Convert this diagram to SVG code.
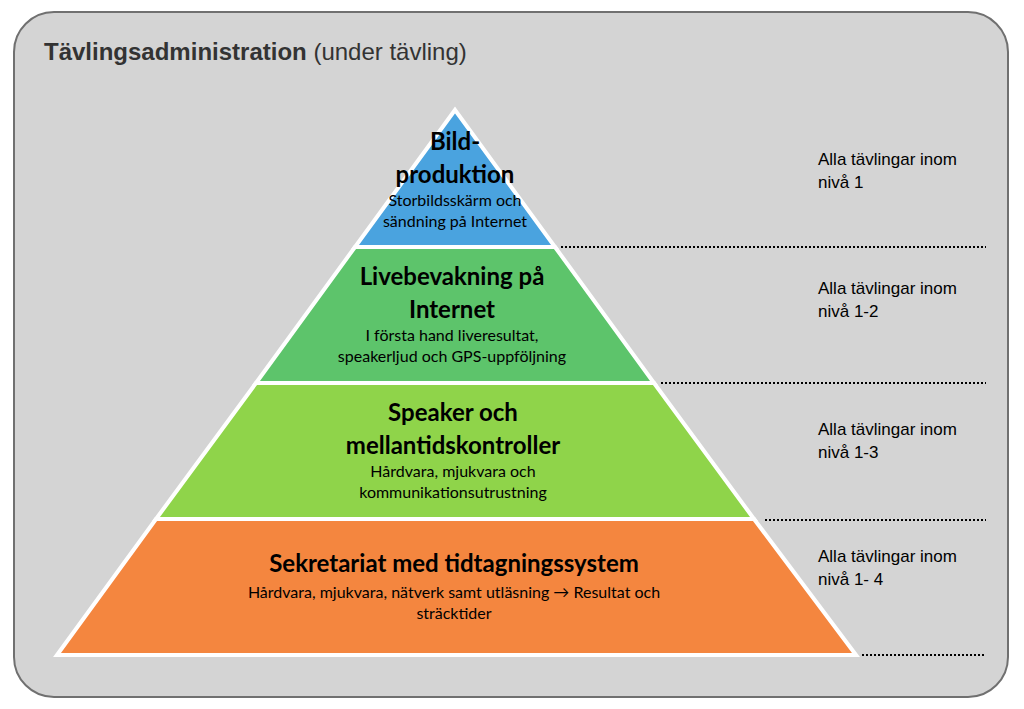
<svg xmlns="http://www.w3.org/2000/svg" width="1024" height="709" viewBox="0 0 1024 709">
<style>
.band{stroke:#fff;stroke-width:4;stroke-linejoin:miter}
.h{font-family:Lato,"Open Sans",sans-serif;font-weight:bold;font-size:24px;fill:#000;text-anchor:middle}
.s{font-family:Lato,"Open Sans",sans-serif;font-size:16px;fill:#000;text-anchor:middle}
.r{font-family:"Liberation Sans",Arial,sans-serif;font-size:17px;fill:#000}
.dot{stroke:#000;stroke-width:2;stroke-dasharray:2 2;fill:none}
</style>
<rect x="0" y="0" width="1024" height="709" fill="#fff"/>
<rect x="14" y="12" width="994" height="685" rx="40" fill="#d4d4d4" stroke="#707070" stroke-width="2"/>
<text x="44" y="60" font-family="Liberation Sans,Arial,sans-serif" font-size="24" fill="#333"><tspan font-weight="bold">Tävlingsadministration</tspan> (under tävling)</text>
<g id="level1"><polygon class="band" points="455,110 555,247 355,247" fill="#4aa3df"/>
<text class="h" x="455" y="150">Bild-</text><text class="h" x="455" y="183">produktion</text>
<text class="s" x="455" y="206">Storbildsskärm och</text><text class="s" x="455" y="227">sändning på Internet</text></g>
<g id="level2"><polygon class="band" points="355,247 555,247 654,383 256,383" fill="#5dc46b"/>
<text class="h" x="452" y="285">Livebevakning på</text><text class="h" x="452" y="318">Internet</text>
<text class="s" x="452" y="341">I första hand liveresultat,</text><text class="s" x="452" y="362">speakerljud och GPS-uppföljning</text></g>
<g id="level3"><polygon class="band" points="256,383 654,383 754,519 156,519" fill="#8fd44a"/>
<text class="h" x="453" y="421">Speaker och</text><text class="h" x="453" y="454">mellantidskontroller</text>
<text class="s" x="453" y="477">Hårdvara, mjukvara och</text><text class="s" x="453" y="498">kommunikationsutrustning</text></g>
<g id="level4"><polygon class="band" points="156,519 754,519 856,655 57,655" fill="#f4863f"/>
<text class="h" x="454" y="572">Sekretariat med tidtagningssystem</text>
<text class="s" x="454" y="598">Hårdvara, mjukvara, nätverk samt utläsning → Resultat och</text><text class="s" x="454" y="619">sträcktider</text></g>
<g id="connectors">
<line class="dot" x1="561" y1="247" x2="986" y2="247"/>
<line class="dot" x1="661" y1="383" x2="986" y2="383"/>
<line class="dot" x1="765" y1="520" x2="986" y2="520"/>
<line class="dot" x1="862" y1="655" x2="986" y2="655"/>
</g>
<g id="labels">
<text class="r" x="818" y="165">Alla tävlingar inom</text><text class="r" x="818" y="188">nivå 1</text>
<text class="r" x="818" y="294">Alla tävlingar inom</text><text class="r" x="818" y="317">nivå 1-2</text>
<text class="r" x="818" y="435">Alla tävlingar inom</text><text class="r" x="818" y="458">nivå 1-3</text>
<text class="r" x="818" y="562">Alla tävlingar inom</text><text class="r" x="818" y="585">nivå 1- 4</text>
</g>
</svg>
